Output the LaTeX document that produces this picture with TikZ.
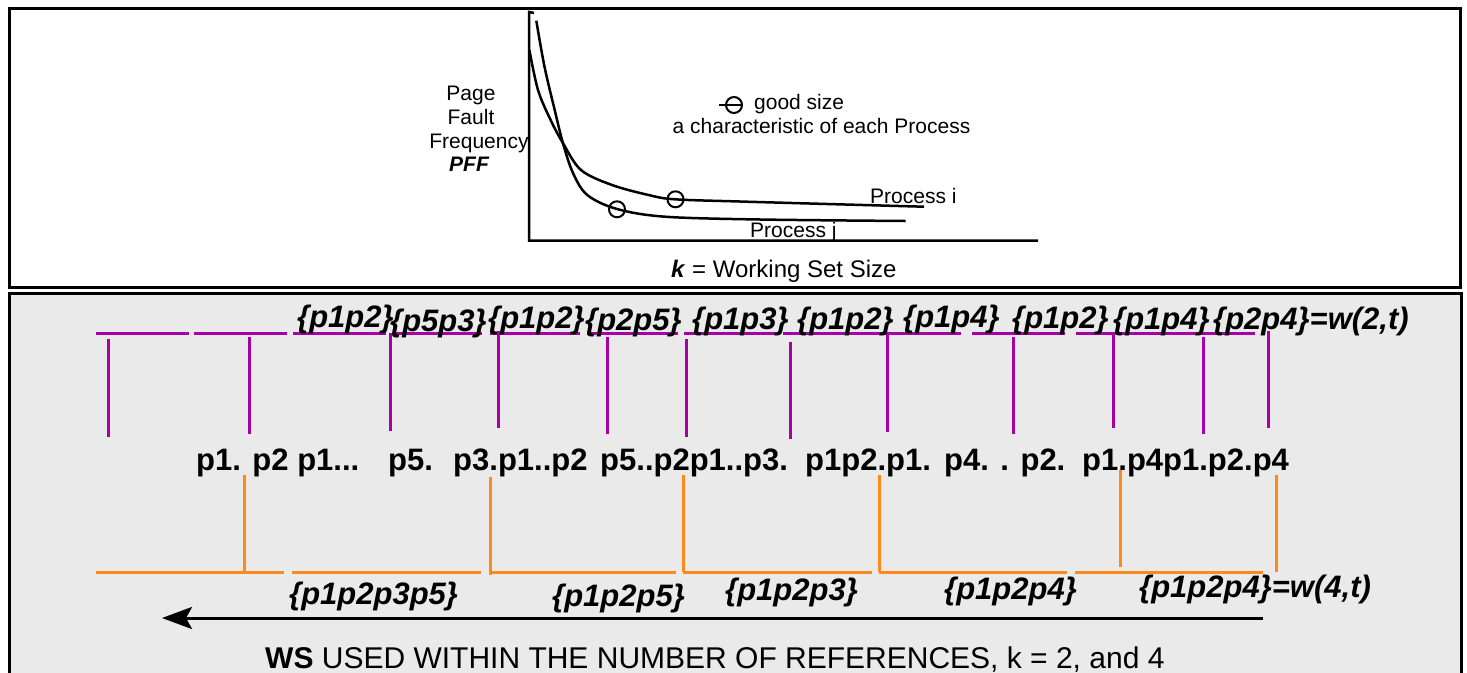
\documentclass[tikz,border=0pt]{standalone}
\usepackage{fontspec}
\setmainfont{Liberation Sans}
\usetikzlibrary{arrows.meta}
\definecolor{wsPurple}{HTML}{A800A8}
\definecolor{wsOrange}{HTML}{FF8A1C}
\definecolor{wsGray}{HTML}{EAEAEA}
\begin{document}
\begin{tikzpicture}[x=1pt,y=-1pt,
  txt/.style={inner sep=0pt, anchor=base west},
  ctxt/.style={inner sep=0pt, anchor=base},
  smalltxt/.style={font=\fontsize{21}{24}\selectfont},
  setlbl/.style={txt, font=\fontsize{31}{36}\selectfont\bfseries\itshape},
  refs/.style={txt, font=\fontsize{31}{36}\selectfont\bfseries},
  boxframe/.style={draw=black, line width=3pt},
  curveline/.style={draw=black, line width=2.5pt},
  axisline/.style={draw=black, line width=2.5pt},
  pline/.style={draw=wsPurple, line width=3pt},
  oline/.style={draw=wsOrange, line width=3pt},
  ringline/.style={draw=black, line width=2pt}
]
\useasboundingbox (0,0) rectangle (1467,672);
\fill[white] (0,0) rectangle (1467,672);
% frames
\draw[boxframe] (9,8) rectangle (1460,287);
\draw[boxframe, fill=wsGray] (9,293) rectangle (1461,690);

% ---------- top chart ----------
\draw[axisline] (534,13) -- (529,12) -- (529,240.5) -- (1038,240.5);
\draw[curveline] plot[smooth, tension=0.55] coordinates {(536.3,20.7) (544.5,66.7) (554.7,110) (562.9,143) (573,173) (587.3,195) (617,209) (665,216.7) (760,219.5) (905.7,221)};
\draw[curveline] plot[smooth, tension=0.55] coordinates {(529.4,50) (538,90) (550.6,120) (562.9,143) (581,170) (612,185) (648.6,195) (675,199.3) (746.5,201.7) (924,206.7)};
\draw[ringline] (617,209.3) circle (8);
\draw[ringline] (675.5,199.3) circle (8);

\node[ctxt, smalltxt] (page) at (471,100) {Page};
\node[ctxt, smalltxt] (fault) at (471,124) {Fault};
\node[ctxt, smalltxt] (freq) at (479,148) {Frequency};
\node[ctxt, font=\fontsize{21}{24}\selectfont\bfseries\itshape] (pff) at (469,171) {PFF};

\draw[ringline] (734,105) circle (8);
\draw[ringline] (719,105) -- (742,105);
\node[txt, smalltxt] (good) at (754,109.5) {good size};
\node[ctxt, smalltxt] (charac) at (821.5,133) {a characteristic of each Process};
\node[txt, smalltxt] (pi) at (870,203) {Process i};
\node[txt, smalltxt] (pj) at (750,237.5) {Process j};
\node[txt, font=\fontsize{24}{28}\selectfont] (kws) at (671,277) {\textbf{\textit{k}} = Working Set Size};

% ---------- purple (k = 2) ----------
\foreach \a/\b in {96/189,194/287,293/386,392/482,490/580,587/678,684/777,783/871,871/961,972/1065,1076/1167,1167/1255}
  \draw[pline] (\a,333) -- (\b,333);
\foreach \x/\t/\b in {108/339/437,249/337/434,390/333/431,498/331/428,607/337/434,686/339/437,790/342/439,887/334/432,1013/337/434,1113/332/428,1203/337/434,1268/331/428}
  \draw[pline] (\x,\t) -- (\x,\b);

\node[setlbl] (w1) at (297,327) {\{p1p2\}};
\node[setlbl] (w2) at (390,331) {\{p5p3\}};
\node[setlbl] (w3) at (488,328) {\{p1p2\}};
\node[setlbl] (w4) at (585,330) {\{p2p5\}};
\node[setlbl] (w5) at (692,329) {\{p1p3\}};
\node[setlbl] (w6) at (797,329) {\{p1p2\}};
\node[setlbl] (w7) at (903,327) {\{p1p4\}};
\node[setlbl] (w8) at (1012,328) {\{p1p2\}};
\node[setlbl] (w9) at (1113,329) {\{p1p4\}};
\node[setlbl] (w10) at (1213,329) {\{p2p4\}=w(2,t)};

% ---------- reference string ----------
\node[refs] (r1) at (196,470) {p1. p2 p1...};
\node[refs] (r2) at (388,470) {p5.};
\node[refs] (r3) at (453,470) {p3.p1..p2};
\node[refs] (r4) at (600,470) {p5..p2p1..p3.};
\node[refs] (r5) at (805,470) {p1p2.p1.};
\node[refs] (r6) at (944,470) {p4. . p2.};
\node[refs] (r7) at (1082,470) {p1.p4p1.p2.p4};

% ---------- orange (k = 4) ----------
\foreach \a/\b in {96/284,292/481,492/676,683/872,879/1067,1075/1263}
  \draw[oline] (\a,572) -- (\b,572);
\foreach \x/\t/\b in {244/475/572,490.5/477/575,683.5/475/572,879.5/475/572,1120/470/567,1276.5/475/572}
  \draw[oline] (\x,\t) -- (\x,\b);

\node[setlbl] (v1) at (289,604) {\{p1p2p3p5\}};
\node[setlbl] (v2) at (552,606) {\{p1p2p5\}};
\node[setlbl] (v3) at (725,600) {\{p1p2p3\}};
\node[setlbl] (v4) at (944,599) {\{p1p2p4\}};
\node[setlbl] (v5) at (1139,597) {\{p1p2p4\}=w(4,t)};

% ---------- arrow and caption ----------
\coordinate (arrS) at (1263,618);
\coordinate (arrE) at (162,618);
\draw[line width=3pt, -{Stealth[length=30pt, width=22pt, inset=6pt]}] (arrS) -- (arrE);
\node[txt, font=\fontsize{30}{36}\selectfont] (cap) at (265,668) {\textbf{WS} USED WITHIN THE NUMBER OF REFERENCES, k = 2, and 4};
\end{tikzpicture}
\end{document}
